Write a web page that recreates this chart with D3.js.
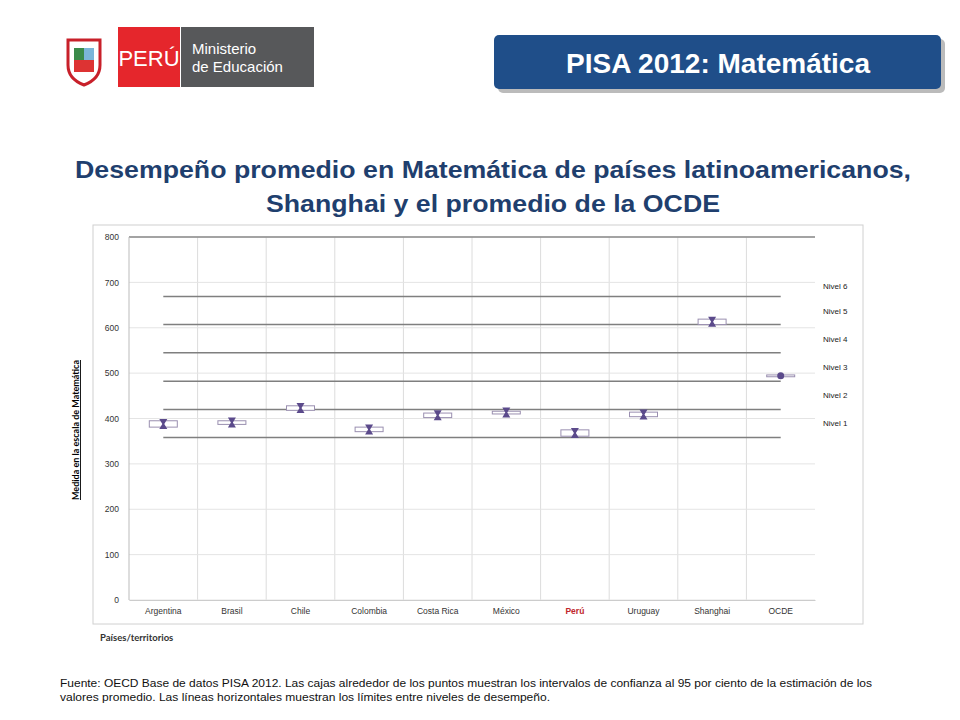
<!DOCTYPE html>
<html><head><meta charset="utf-8">
<script src="https://cdn.jsdelivr.net/npm/d3@7"></script>
<style>body{margin:0;background:#fff;font-family:"Liberation Sans",Arial,sans-serif}</style>
</head><body>
<svg id="c" width="960" height="720"></svg>
<script>
const countries = ['Argentina','Brasil','Chile','Colombia','Costa Rica','México','Perú','Uruguay','Shanghai','OCDE'];
const means = [388, 391, 423, 376, 407, 413, 368, 409, 613, 494];
const ciLow = [381, 387, 418, 371, 402, 410, 361, 404, 607, 492];
const ciHigh = [395, 395, 428, 381, 412, 416, 375, 414, 619, 496];
const levelCuts = [358, 420, 482, 545, 607, 669];
const levelNames = ['Nivel 1','Nivel 2','Nivel 3','Nivel 4','Nivel 5','Nivel 6'];
const yTicks = [0,100,200,300,400,500,600,700,800];

const svg = d3.select('#c');

// header
const logo = svg.append('g');
logo.append('rect').attr('x',118).attr('y',27).attr('width',62).attr('height',60).attr('fill','#e5262c');
logo.append('text').attr('x',149).attr('y',66).attr('text-anchor','middle').attr('fill','#fff').attr('font-size',22).text('PERÚ');
logo.append('rect').attr('x',181).attr('y',27).attr('width',133).attr('height',60).attr('fill','#57585a');
logo.append('text').attr('x',192).attr('y',54).attr('fill','#fff').attr('font-size',15).text('Ministerio');
logo.append('text').attr('x',192).attr('y',72).attr('fill','#fff').attr('font-size',15).text('de Educación');
logo.append('path').attr('d','M68,40 h32 v25 q0,14 -16,20 q-16,-6 -16,-20z').attr('fill','#fff').attr('stroke','#c8202a').attr('stroke-width',3);
logo.append('rect').attr('x',74).attr('y',48).attr('width',10).attr('height',12).attr('fill','#3a8a4a');
logo.append('rect').attr('x',84).attr('y',48).attr('width',10).attr('height',12).attr('fill','#7bb5d9');
logo.append('rect').attr('x',74).attr('y',60).attr('width',20).attr('height',12).attr('fill','#d33');

svg.append('rect').attr('x',498).attr('y',39).attr('width',447).attr('height',54).attr('rx',5).attr('fill','#bbb');
svg.append('rect').attr('x',494).attr('y',35).attr('width',447).attr('height',54).attr('rx',5).attr('fill','#1f4e89');
svg.append('text').attr('x',718).attr('y',73).attr('text-anchor','middle').attr('fill','#fff')
  .attr('font-size',28).attr('font-weight','bold').text('PISA 2012: Matemática');

svg.append('text').attr('x',493).attr('y',178).attr('text-anchor','middle').attr('fill','#1f3f6e')
  .attr('font-size',24).attr('font-weight','bold').attr('textLength',836).attr('lengthAdjust','spacingAndGlyphs')
  .text('Desempeño promedio en Matemática de países latinoamericanos,');
svg.append('text').attr('x',493).attr('y',212).attr('text-anchor','middle').attr('fill','#1f3f6e')
  .attr('font-size',24).attr('font-weight','bold').attr('textLength',454).attr('lengthAdjust','spacingAndGlyphs')
  .text('Shanghai y el promedio de la OCDE');

// chart frame
svg.append('rect').attr('x',93).attr('y',225).attr('width',770).attr('height',399).attr('fill','#fff').attr('stroke','#d0d0d0');

const x = d3.scaleBand().domain(countries).range([129,815]);
const y = d3.scaleLinear().domain([0,800]).range([600,237]);

const g = svg.append('g');
g.selectAll('.vg').data(countries.slice(1)).join('line')
  .attr('x1',d=>x(d)).attr('x2',d=>x(d)).attr('y1',y(800)).attr('y2',y(0)).attr('stroke','#dcdcdc');
g.selectAll('.hg').data(yTicks).join('line')
  .attr('x1',129).attr('x2',815).attr('y1',d=>y(d)).attr('y2',d=>y(d)).attr('stroke','#e4e4e4');
g.append('line').attr('x1',129).attr('x2',815).attr('y1',y(800)).attr('y2',y(800)).attr('stroke','#888').attr('stroke-width',1.5);
g.append('line').attr('x1',129).attr('x2',129).attr('y1',y(800)).attr('y2',y(0)).attr('stroke','#bbb');

const yAxis = g.append('g').attr('transform','translate(129,0)')
  .call(d3.axisLeft(y).tickValues(yTicks).tickSize(0).tickPadding(10));
yAxis.select('.domain').remove();
yAxis.selectAll('text').attr('font-size',8.5).attr('fill','#333');

const xAxis = g.append('g').attr('transform',`translate(0,${y(0)})`)
  .call(d3.axisBottom(x).tickSize(0).tickPadding(8));
xAxis.select('.domain').attr('stroke','#ccc');
xAxis.selectAll('text').attr('font-size',8.5).attr('fill',d=>d==='Perú'?'#c0262c':'#333')
  .attr('font-weight',d=>d==='Perú'?'bold':'normal');

const cx = d=>x(d)+x.bandwidth()/2;
g.selectAll('.lv').data(levelCuts).join('line')
  .attr('x1',cx(countries[0])).attr('x2',cx(countries[9])).attr('y1',d=>y(d)).attr('y2',d=>y(d))
  .attr('stroke','#7f7f7f').attr('stroke-width',1.6);
g.selectAll('.ln').data(levelNames).join('text')
  .attr('x',823).attr('y',(d,i)=>y(i<5?(levelCuts[i]+levelCuts[i+1])/2:levelCuts[5]+24)+3)
  .attr('font-size',8).attr('fill','#222').text(d=>d);

const pts = g.selectAll('.pt').data(countries).join('g');
pts.append('rect').attr('x',d=>cx(d)-14).attr('width',28)
  .attr('y',(d,i)=>y(ciHigh[i])).attr('height',(d,i)=>y(ciLow[i])-y(ciHigh[i]))
  .attr('fill','#fff').attr('stroke','#9a8fb0');
pts.append('path').attr('d',(d,i)=>{const c=cx(d),t=y(means[i])-5;
    return d==='OCDE'?'':`M${c-4},${t}h8l-3,5l3,5h-8l3,-5z`;})
  .attr('fill','#5b4a8b');
pts.filter(d=>d==='OCDE').append('circle').attr('cx',d=>cx(d)).attr('cy',y(means[9])).attr('r',3.5).attr('fill','#5b4a8b');

svg.append('text').attr('transform','translate(79,430) rotate(-90)').attr('text-anchor','middle')
  .attr('font-size',9).attr('font-weight','bold').attr('font-family','Lato, sans-serif').attr('text-decoration','underline')
  .text('Medida en la escala de Matemática');
svg.append('text').attr('x',100).attr('y',641).attr('font-size',9.5).attr('font-weight','bold')
  .attr('font-family','Lato, sans-serif').attr('fill','#333').text('Países/territorios');

svg.append('text').attr('x',60).attr('y',687).attr('font-size',11).attr('fill','#111')
  .attr('textLength',812).attr('lengthAdjust','spacingAndGlyphs')
  .text('Fuente: OECD Base de datos PISA 2012. Las cajas alrededor de los puntos muestran los intervalos de confianza al 95 por ciento de la estimación de los');
svg.append('text').attr('x',60).attr('y',701).attr('font-size',11).attr('fill','#111')
  .attr('textLength',490).attr('lengthAdjust','spacingAndGlyphs')
  .text('valores promedio. Las líneas horizontales muestran los límites entre niveles de desempeño.');
</script>
</body></html>
